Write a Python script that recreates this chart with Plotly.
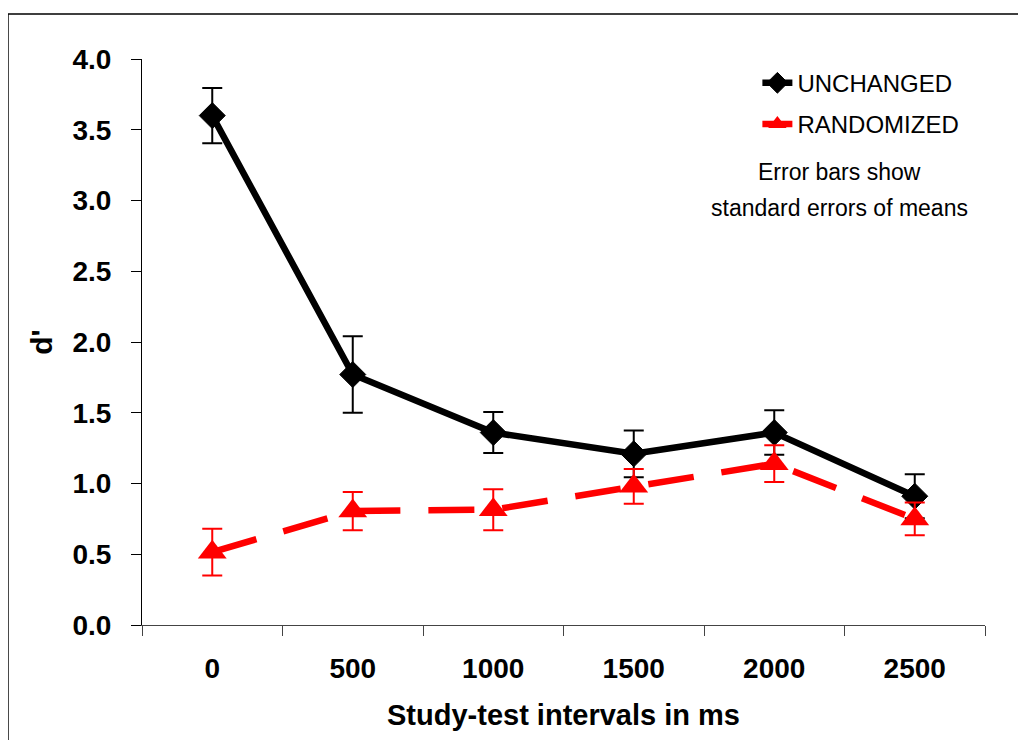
import plotly.graph_objects as go

categories = ["0", "500", "1000", "1500", "2000", "2500"]
unchanged = [3.60, 1.77, 1.36, 1.21, 1.36, 0.91]
unchanged_err = [0.195, 0.27, 0.145, 0.165, 0.157, 0.156]
randomized = [0.515, 0.805, 0.815, 0.98, 1.14, 0.75]
randomized_err = [0.165, 0.135, 0.145, 0.123, 0.13, 0.115]
y_ticks = [0.0, 0.5, 1.0, 1.5, 2.0, 2.5, 3.0, 3.5, 4.0]

FONT = "Liberation Sans, Arial, sans-serif"

fig = go.Figure()
fig.add_trace(go.Scatter(
    x=categories, y=unchanged, name="UNCHANGED", mode="lines+markers",
    line=dict(color="black", width=6.5),
    marker=dict(symbol="diamond", size=20, color="black", line=dict(color="black", width=1)),
    error_y=dict(type="data", array=unchanged_err, color="black", thickness=2, width=10),
    legendgroup="a",
))
fig.add_trace(go.Scatter(
    x=categories, y=randomized, name="RANDOMIZED", mode="lines+markers",
    line=dict(color="#ff0000", width=6.5, dash="46px,28px"),
    marker=dict(symbol="triangle-up", size=25, color="#ff0000"),
    error_y=dict(type="data", array=randomized_err, color="#ff0000", thickness=2, width=10),
    legendgroup="b",
))

fig.update_layout(
    width=1018, height=732,
    margin=dict(l=134, r=41, t=51, b=115, autoexpand=False),
    paper_bgcolor="white", plot_bgcolor="white",
    font=dict(family=FONT, color="black"),
    showlegend=True,
    legend=dict(x=0.73, y=0.997, xanchor="left", yanchor="top",
                font=dict(size=24, family=FONT), bgcolor="rgba(0,0,0,0)",
                tracegroupgap=7, itemwidth=30),
    xaxis=dict(
        type="category", categoryorder="array", categoryarray=categories,
        range=[-0.5, 5.5], tickson="boundaries", ticks="outside", ticklen=10,
        tickcolor="#444", showline=True, linecolor="#444", linewidth=1,
        showgrid=False, zeroline=False, automargin=False,
        tickfont=dict(size=28, family=FONT, weight="bold"), ticklabelstandoff=18,
        title=dict(text="Study-test intervals in ms", font=dict(size=29, family=FONT, weight="bold"), standoff=22),
    ),
    yaxis=dict(
        range=[0, 4], tickvals=y_ticks, tickformat=".1f", ticks="outside", ticklen=10,
        tickcolor="black", showline=True, linecolor="black", linewidth=1,
        showgrid=False, zeroline=False, automargin=False,
        tickfont=dict(size=28, family=FONT, weight="bold"), ticklabelstandoff=14,
        title=dict(text="d'", font=dict(size=30, family=FONT, weight="bold"), standoff=10),
    ),
    shapes=[dict(type="rect", xref="paper", yref="paper",
                 x0=-0.159, x1=1.2, y0=-0.3, y1=1.0795,
                 line=dict(color="black", width=1.5), fillcolor="rgba(0,0,0,0)", layer="below")],
    annotations=[
        dict(text="Error bars show", xref="paper", yref="paper", x=0.827, y=0.800,
             showarrow=False, font=dict(size=23, family=FONT), xanchor="center", yanchor="middle"),
        dict(text="standard errors of means", xref="paper", yref="paper", x=0.827, y=0.737,
             showarrow=False, font=dict(size=23, family=FONT), xanchor="center", yanchor="middle"),
    ],
)

fig.write_html("out.html")
